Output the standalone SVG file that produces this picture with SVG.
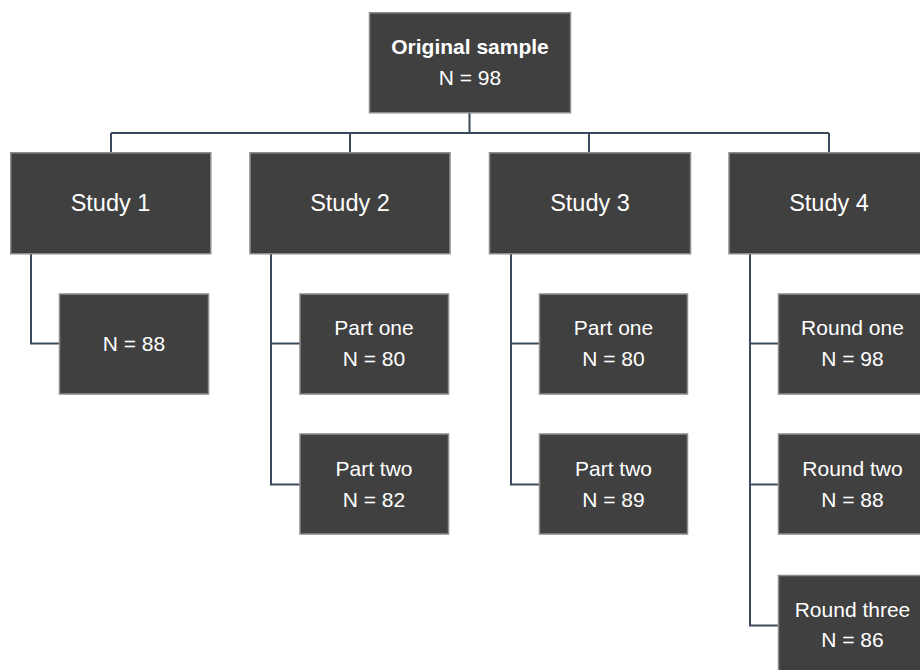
<svg xmlns="http://www.w3.org/2000/svg" width="920" height="670" viewBox="0 0 920 670">
<style>
.box{fill:#404040;stroke:#8c8c8c;stroke-width:1.5}
.t{fill:#ffffff;font-family:"Liberation Sans",Arial,sans-serif;font-size:21px;text-anchor:middle}
.b{font-weight:bold}
.s{font-size:23.5px}
.c{fill:none;stroke:#3b4a5e;stroke-width:2}
</style>
<rect width="920" height="670" fill="#ffffff"/>
<g id="connectors">
<path class="c" d="M469.5,113 V133 M111,133 H829 M111,133 V153 M350,133 V153 M589,133 V153 M829,133 V153"/>
<path class="c" d="M31,254 V343.5 H59.5"/>
<path class="c" d="M271,254 V484.5 H300 M271,343.5 H300"/>
<path class="c" d="M511,254 V484.5 H539.5 M511,343.5 H539.5"/>
<path class="c" d="M750,254 V625.5 H778.5 M750,343.5 H778.5 M750,484.5 H778.5"/>
</g>
<g id="root"><rect class="box" x="369.5" y="12.75" width="201" height="100"/><text class="t b" x="470" y="54">Original sample</text><text class="t" x="470" y="85">N = 98</text></g>
<g id="study1"><rect class="box" x="10.75" y="152.75" width="200" height="101"/><text class="t s" x="110.5" y="211">Study 1</text></g>
<g id="study2"><rect class="box" x="250" y="152.75" width="200" height="101"/><text class="t s" x="350" y="211">Study 2</text></g>
<g id="study3"><rect class="box" x="489.5" y="152.75" width="201" height="101"/><text class="t s" x="590" y="211">Study 3</text></g>
<g id="study4"><rect class="box" x="729" y="152.75" width="200" height="101"/><text class="t s" x="829" y="211">Study 4</text></g>
<g id="s1n"><rect class="box" x="59.5" y="294" width="149" height="100"/><text class="t" x="134" y="351">N = 88</text></g>
<g id="s2p1"><rect class="box" x="300" y="294" width="148.5" height="100"/><text class="t" x="374" y="335">Part one</text><text class="t" x="374" y="366">N = 80</text></g>
<g id="s2p2"><rect class="box" x="300" y="434" width="148.5" height="100"/><text class="t" x="374" y="476">Part two</text><text class="t" x="374" y="507">N = 82</text></g>
<g id="s3p1"><rect class="box" x="539.5" y="294" width="148" height="100"/><text class="t" x="613.5" y="335">Part one</text><text class="t" x="613.5" y="366">N = 80</text></g>
<g id="s3p2"><rect class="box" x="539.5" y="434" width="148" height="100"/><text class="t" x="613.5" y="476">Part two</text><text class="t" x="613.5" y="507">N = 89</text></g>
<g id="s4r1"><rect class="box" x="778.5" y="294" width="149" height="100"/><text class="t" x="852.5" y="335">Round one</text><text class="t" x="852.5" y="366">N = 98</text></g>
<g id="s4r2"><rect class="box" x="778.5" y="434" width="149" height="100"/><text class="t" x="852.5" y="476">Round two</text><text class="t" x="852.5" y="507">N = 88</text></g>
<g id="s4r3"><rect class="box" x="778.5" y="575.5" width="149" height="100"/><text class="t" x="852.5" y="617">Round three</text><text class="t" x="852.5" y="647">N = 86</text></g>
</svg>
